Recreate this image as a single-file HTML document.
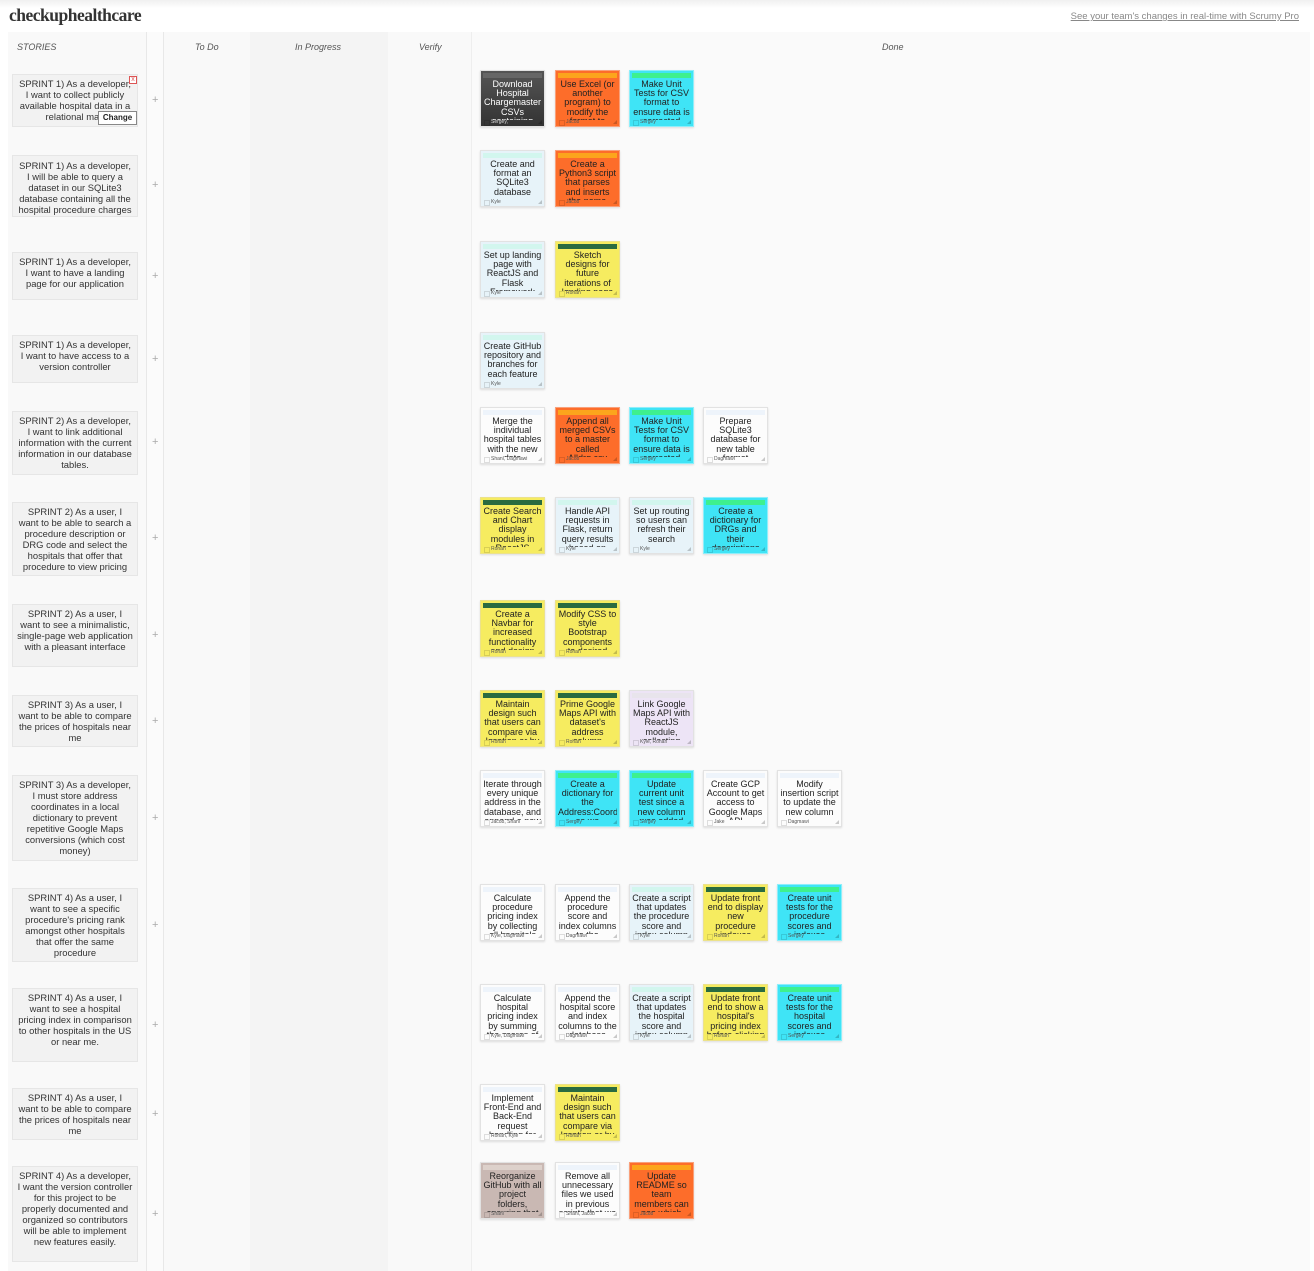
<!DOCTYPE html>
<html><head><meta charset="utf-8"><style>
*{margin:0;padding:0;box-sizing:border-box}
body{width:1314px;height:1271px;background:#fff;font-family:"Liberation Sans",Arial,sans-serif;position:relative;overflow:hidden;color:#222}
.top{position:absolute;left:0;top:0;width:1314px;height:32px;background:linear-gradient(#f0f0f0,#fff 8px)}
.logo{position:absolute;left:9px;top:5px;font:bold 17.5px "Liberation Serif",serif;letter-spacing:-0.5px;color:#333}
.pro{position:absolute;right:15px;top:11px;font-size:9.5px;color:#888;text-decoration:underline}
.col{position:absolute;top:32px;height:1239px}
.h{position:absolute;top:42px;font-size:9px;font-style:italic;color:#555}
.s{position:absolute;left:12px;width:126px;background:#f2f2f2;border:1px solid #e6e6e6;font-size:9.4px;line-height:11px;text-align:center;color:#333;padding:3px 4px}
.pl{position:absolute;left:152px;font-size:11px;color:#aaa}
.c{position:absolute;width:65px;height:57px;border:1px solid #e2e2e2;box-shadow:0 1px 2px rgba(0,0,0,.12);overflow:hidden}
.c i{position:absolute;left:2px;top:2px;right:2px;height:5px}
.c p{position:absolute;left:2px;right:2px;top:9px;height:40px;overflow:hidden;font-size:9px;line-height:9.2px;text-align:center;color:#222}
.c b{position:absolute;left:3px;bottom:1px;font-weight:normal;font-size:5px;color:#555;padding-left:7px}
.c b:before{content:"";position:absolute;left:0;top:1px;width:4px;height:4px;border:1px solid rgba(0,0,0,.12)}
.c:after{content:"";position:absolute;right:2px;bottom:2px;border-left:4px solid transparent;border-bottom:4px solid rgba(0,0,0,.2)}
.d{background:linear-gradient(#555,#333)}.d i{background:#666}.d p{color:#fff}.d b{color:#ddd}
.o{background:#fd6d2a;border-color:#f9a07a}.o i{background:#fca51c}
.cy{background:#3fe4f6;border-color:#8eeefa}.cy i{background:#3ef08e}
.w{background:#fcfcfc}.w i{background:#eef4fb}
.l{background:#e7f3f9}.l i{background:#d2f6ee}
.y{background:#f6ec60;border-color:#ece28a}.y i{background:#2a6b40}
.v{background:#ede4f6}.v i{background:#e8e4ec}
.t{background:#c9b8b3}.t i{background:#ddd1cb}
</style></head><body>
<div class="top"></div>
<div class="logo">checkuphealthcare</div>
<div class="pro">See your team's changes in real-time with Scrumy Pro</div>

<div class="col" style="left:8px;width:138px;background:#f9f9f9"></div>
<div class="col" style="left:146px;width:18px;background:#fbfbfb;border-left:1px solid #e8e8e8;border-right:1px solid #e8e8e8"></div>
<div class="col" style="left:164px;width:86px;background:#f9f9f9"></div>
<div class="col" style="left:250px;width:138px;background:#f4f4f4"></div>
<div class="col" style="left:388px;width:83px;background:#f9f9f9"></div>
<div class="col" style="left:471px;width:839px;background:#fafafa;border-left:1px solid #eee"></div>

<div class="h" style="left:17px">STORIES</div>
<div class="h" style="left:195px">To Do</div>
<div class="h" style="left:295px">In Progress</div>
<div class="h" style="left:419px">Verify</div>
<div class="h" style="left:882px">Done</div>

<div class="s" style="top:74px;height:53px">SPRINT 1) As a developer, I want to collect publicly available hospital data in a relational man</div>
<div style="position:absolute;left:98px;top:111px;width:39px;height:14px;border:1px solid #888;background:#fff;font-size:8px;font-weight:bold;text-align:center;line-height:12px">Change</div>
<div style="position:absolute;left:129px;top:76px;width:8px;height:8px;border:1px solid #d55;color:#d55;font-size:7px;line-height:6px;text-align:center;background:#fff">x</div>
<div class="s" style="top:155px;height:62px;padding-top:4px">SPRINT 1) As a developer, I will be able to query a dataset in our SQLite3 database containing all the hospital procedure charges</div>
<div class="s" style="top:252px;height:48px">SPRINT 1) As a developer, I want to have a landing page for our application</div>
<div class="s" style="top:335px;height:48px">SPRINT 1) As a developer, I want to have access to a version controller</div>
<div class="s" style="top:411px;height:64px">SPRINT 2) As a developer, I want to link additional information with the current information in our database tables.</div>
<div class="s" style="top:502px;height:74px">SPRINT 2) As a user, I want to be able to search a procedure description or DRG code and select the hospitals that offer that procedure to view pricing</div>
<div class="s" style="top:604px;height:63px">SPRINT 2) As a user, I want to see a minimalistic, single-page web application with a pleasant interface</div>
<div class="s" style="top:695px;height:52px">SPRINT 3) As a user, I want to be able to compare the prices of hospitals near me</div>
<div class="s" style="top:775px;height:86px">SPRINT 3) As a developer, I must store address coordinates in a local dictionary to prevent repetitive Google Maps conversions (which cost money)</div>
<div class="s" style="top:888px;height:74px">SPRINT 4) As a user, I want to see a specific procedure's pricing rank amongst other hospitals that offer the same procedure</div>
<div class="s" style="top:988px;height:74px">SPRINT 4) As a user, I want to see a hospital pricing index in comparison to other hospitals in the US or near me.</div>
<div class="s" style="top:1088px;height:52px">SPRINT 4) As a user, I want to be able to compare the prices of hospitals near me</div>
<div class="s" style="top:1166px;height:96px">SPRINT 4) As a developer, I want the version controller for this project to be properly documented and organized so contributors will be able to implement new features easily.</div>

<div class="pl" style="top:94px">+</div><div class="pl" style="top:179px">+</div><div class="pl" style="top:270px">+</div><div class="pl" style="top:353px">+</div><div class="pl" style="top:436px">+</div><div class="pl" style="top:532px">+</div><div class="pl" style="top:629px">+</div><div class="pl" style="top:715px">+</div><div class="pl" style="top:812px">+</div><div class="pl" style="top:919px">+</div><div class="pl" style="top:1019px">+</div><div class="pl" style="top:1108px">+</div><div class="pl" style="top:1208px">+</div>

<div class="c d" style="left:480px;top:70px"><i></i><p>Download Hospital Chargemaster CSVs containing</p><b>Sergey,</b></div>
<div class="c o" style="left:555px;top:70px"><i></i><p>Use Excel (or another program) to modify the format to</p><b>Jacob</b></div>
<div class="c cy" style="left:629px;top:70px"><i></i><p>Make Unit Tests for CSV format to ensure data is corrected</p><b>Sergey</b></div>

<div class="c l" style="left:480px;top:150px"><i></i><p>Create and format an SQLite3 database</p><b>Kyle</b></div>
<div class="c o" style="left:555px;top:150px"><i></i><p>Create a Python3 script that parses and inserts the name</p><b>Jacob</b></div>

<div class="c l" style="left:480px;top:241px"><i></i><p>Set up landing page with ReactJS and Flask Framework</p><b>Kyle</b></div>
<div class="c y" style="left:555px;top:241px"><i></i><p>Sketch designs for future iterations of landing page</p><b>Rohan</b></div>

<div class="c l" style="left:480px;top:332px"><i></i><p>Create GitHub repository and branches for each feature</p><b>Kyle</b></div>

<div class="c w" style="left:480px;top:407px"><i></i><p>Merge the individual hospital tables with the new data</p><b>Shanl, Dagmawi</b></div>
<div class="c o" style="left:555px;top:407px"><i></i><p>Append all merged CSVs to a master called Alldrg.csv</p><b>Jacob</b></div>
<div class="c cy" style="left:629px;top:407px"><i></i><p>Make Unit Tests for CSV format to ensure data is corrected</p><b>Sergey</b></div>
<div class="c w" style="left:703px;top:407px"><i></i><p>Prepare SQLite3 database for new table format</p><b>Dagmawi</b></div>

<div class="c y" style="left:480px;top:497px"><i></i><p>Create Search and Chart display modules in ReactJS</p><b>Rohan</b></div>
<div class="c l" style="left:555px;top:497px"><i></i><p>Handle API requests in Flask, return query results based on</p><b>Kyle</b></div>
<div class="c l" style="left:629px;top:497px"><i></i><p>Set up routing so users can refresh their search</p><b>Kyle</b></div>
<div class="c cy" style="left:703px;top:497px"><i></i><p>Create a dictionary for DRGs and their descriptions</p><b>Sergey</b></div>

<div class="c y" style="left:480px;top:600px"><i></i><p>Create a Navbar for increased functionality and design</p><b>Rohan</b></div>
<div class="c y" style="left:555px;top:600px"><i></i><p>Modify CSS to style Bootstrap components to desired</p><b>Rohan</b></div>

<div class="c y" style="left:480px;top:690px"><i></i><p>Maintain design such that users can compare via location or by</p><b>Rohan</b></div>
<div class="c y" style="left:555px;top:690px"><i></i><p>Prime Google Maps API with dataset's address column</p><b>Rohan</b></div>
<div class="c v" style="left:629px;top:690px"><i></i><p>Link Google Maps API with ReactJS module, collecting</p><b>Kyle, Rohan</b></div>

<div class="c w" style="left:480px;top:770px"><i></i><p>Iterate through every unique address in the database, and append a new</p><b>Jacob, Shanl</b></div>
<div class="c cy" style="left:555px;top:770px"><i></i><p>Create a dictionary for the Address:Coordinates so we</p><b>Sergey</b></div>
<div class="c cy" style="left:629px;top:770px"><i></i><p>Update current unit test since a new column was added</p><b>Sergey</b></div>
<div class="c w" style="left:703px;top:770px"><i></i><p>Create GCP Account to get access to Google Maps API</p><b>Jake</b></div>
<div class="c w" style="left:777px;top:770px"><i></i><p>Modify insertion script to update the new column</p><b>Dagmawi</b></div>

<div class="c w" style="left:480px;top:884px"><i></i><p>Calculate procedure pricing index by collecting all hospitals</p><b>Kyle, Dagmawi</b></div>
<div class="c w" style="left:555px;top:884px"><i></i><p>Append the procedure score and index columns to the</p><b>Dagmawi</b></div>
<div class="c l" style="left:629px;top:884px"><i></i><p>Create a script that updates the procedure score and index column</p><b>Kyle</b></div>
<div class="c y" style="left:703px;top:884px"><i></i><p>Update front end to display new procedure indexes</p><b>Rohan</b></div>
<div class="c cy" style="left:777px;top:884px"><i></i><p>Create unit tests for the procedure scores and indexes</p><b>Sergey</b></div>

<div class="c w" style="left:480px;top:984px"><i></i><p>Calculate hospital pricing index by summing the scores of</p><b>Kyle, Dagmawi</b></div>
<div class="c w" style="left:555px;top:984px"><i></i><p>Append the hospital score and index columns to the database</p><b>Dagmawi</b></div>
<div class="c l" style="left:629px;top:984px"><i></i><p>Create a script that updates the hospital score and index column</p><b>Kyle</b></div>
<div class="c y" style="left:703px;top:984px"><i></i><p>Update front end to show a hospital's pricing index before clicking</p><b>Rohan</b></div>
<div class="c cy" style="left:777px;top:984px"><i></i><p>Create unit tests for the hospital scores and indexes</p><b>Sergey</b></div>

<div class="c w" style="left:480px;top:1084px"><i></i><p>Implement Front-End and Back-End request handling for</p><b>Rohan, Kyle</b></div>
<div class="c y" style="left:555px;top:1084px"><i></i><p>Maintain design such that users can compare via location or by</p><b>Rohan</b></div>

<div class="c t" style="left:480px;top:1162px"><i></i><p>Reorganize GitHub with all project folders, ensuring that</p><b>Shanl</b></div>
<div class="c w" style="left:555px;top:1162px"><i></i><p>Remove all unnecessary files we used in previous scripts that we</p><b>Shanl, Jacob</b></div>
<div class="c o" style="left:629px;top:1162px"><i></i><p>Update README so team members can see which</p><b>Jacob</b></div>
</body></html>
